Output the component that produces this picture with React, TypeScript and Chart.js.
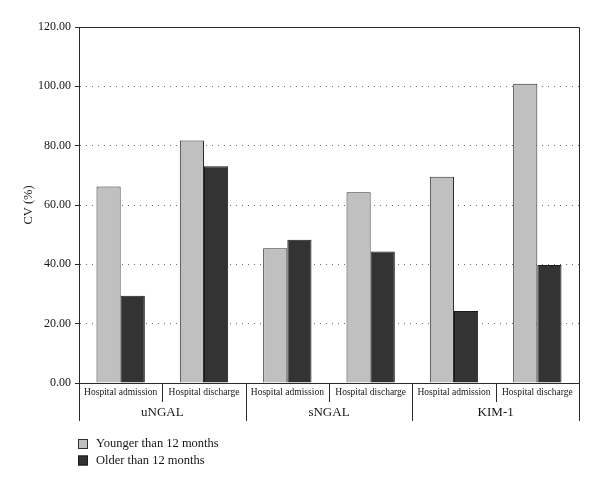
import React, { useEffect, useRef } from 'react';
import { Chart, registerables } from 'chart.js';

Chart.register(...registerables);

const subLabels = [
  'Hospital admission',
  'Hospital discharge',
  'Hospital admission',
  'Hospital discharge',
  'Hospital admission',
  'Hospital discharge',
];
const groupLabels = ['uNGAL', 'sNGAL', 'KIM-1'];
const seriesNames = ['Younger than 12 months', 'Older than 12 months'];
const younger = [66.2, 81.7, 45.4, 64.3, 69.5, 100.9];
const older = [29.4, 73.1, 48.3, 44.3, 24.3, 39.8];
const yMin = 0;
const yMax = 120;
const yStep = 20;
const yTitle = 'CV (%)';

const FONT = "'Liberation Serif', 'DejaVu Serif', serif";
const TEXT = '#151515';
const LINE = '#2a2a2a';

const decor = {
  id: 'decor',
  afterDraw(chart: any) {
    const { ctx, chartArea: ca, scales } = chart;
    const x = scales.x;
    ctx.save();
    ctx.strokeStyle = LINE;
    ctx.lineWidth = 1;
    const top = Math.round(ca.top) + 0.5;
    const right = Math.round(ca.right) + 0.5;
    ctx.beginPath();
    ctx.moveTo(ca.left, top);
    ctx.lineTo(right, top);
    ctx.lineTo(right, ca.bottom);
    ctx.stroke();

    const n = chart.data.labels.length;
    const per = n / groupLabels.length;
    for (let i = 0; i <= n; i++) {
      let px;
      if (i === 0) px = x.left;
      else if (i === n) px = x.right;
      else px = (x.getPixelForValue(i - 1) + x.getPixelForValue(i)) / 2;
      px = Math.round(px) + 0.5;
      const len = i % per === 0 ? 38 : 19;
      ctx.beginPath();
      ctx.moveTo(px, ca.bottom);
      ctx.lineTo(px, ca.bottom + len);
      ctx.stroke();
    }

    // legend
    const lx = ca.left - 1;
    let ly = 436;
    ctx.font = `12.5px ${FONT}`;
    ctx.textBaseline = 'middle';
    ctx.textAlign = 'left';
    chart.data.datasets.forEach((ds: any) => {
      ctx.fillStyle = ds.backgroundColor;
      ctx.fillRect(lx, ly - 5, 10, 10);
      ctx.strokeStyle = ds.borderColor;
      ctx.strokeRect(lx + 0.5, ly - 4.5, 9, 9);
      ctx.fillStyle = TEXT;
      ctx.fillText(ds.label, lx + 18, ly);
      ly += 16.5;
    });
    ctx.restore();
  },
};

export default function App() {
  const ref = useRef<HTMLCanvasElement | null>(null);

  useEffect(() => {
    if (!ref.current) return;
    const chart = new Chart(ref.current, {
      type: 'bar',
      data: {
        labels: subLabels,
        datasets: [
          {
            label: seriesNames[0],
            data: younger,
            backgroundColor: '#c0c0c0',
            borderColor: '#2e2e2e',
            borderWidth: 1,
          },
          {
            label: seriesNames[1],
            data: older,
            backgroundColor: '#333333',
            borderColor: '#1a1a1a',
            borderWidth: 1,
          },
        ],
      },
      options: {
        animation: false,
        responsive: true,
        maintainAspectRatio: false,
        layout: { padding: { left: 0, right: 13, top: 19, bottom: 54 } },
        plugins: {
          legend: { display: false },
          tooltip: { enabled: false },
        },
        datasets: {
          bar: { categoryPercentage: 0.58, barPercentage: 1 },
        },
        scales: {
          x: {
            type: 'category',
            position: 'bottom',
            grid: { display: false, drawTicks: false },
            border: { display: true, color: LINE, width: 1 },
            ticks: {
              font: { family: FONT, size: 9.5 },
              color: TEXT,
              padding: 4,
              maxRotation: 0,
              autoSkip: false,
            },
            afterFit: (s: any) => {
              s.height = 20;
            },
          },
          x2: {
            type: 'category',
            position: 'bottom',
            labels: groupLabels,
            offset: true,
            grid: { display: false, drawTicks: false },
            border: { display: false },
            ticks: {
              font: { family: FONT, size: 13 },
              color: TEXT,
              padding: 2,
              maxRotation: 0,
              autoSkip: false,
            },
            afterFit: (s: any) => {
              s.height = 25;
            },
          },
          y: {
            min: yMin,
            max: yMax,
            ticks: {
              stepSize: yStep,
              font: { family: FONT, size: 12 },
              color: TEXT,
              padding: 4,
              callback: (v: any) => Number(v).toFixed(2),
            },
            grid: {
              color: (c: any) =>
                c.tick && (c.tick.value === yMin || c.tick.value === yMax) ? 'rgba(0,0,0,0)' : '#6e6e6e',
              tickColor: LINE,
              tickLength: 4,
              lineWidth: 1,
            },
            border: { display: true, color: LINE, width: 1, dash: [1, 5] },
            title: {
              display: true,
              text: yTitle,
              font: { family: FONT, size: 12.5 },
              color: TEXT,
              padding: { top: 13, bottom: 0 },
            },
            afterFit: (s: any) => {
              s.width = 71;
            },
          },
        },
      },
      plugins: [decor],
    });
    return () => chart.destroy();
  }, []);

  return (
    <div style={{ width: 584, height: 474, position: 'relative' }}>
      <canvas ref={ref} />
    </div>
  );
}
